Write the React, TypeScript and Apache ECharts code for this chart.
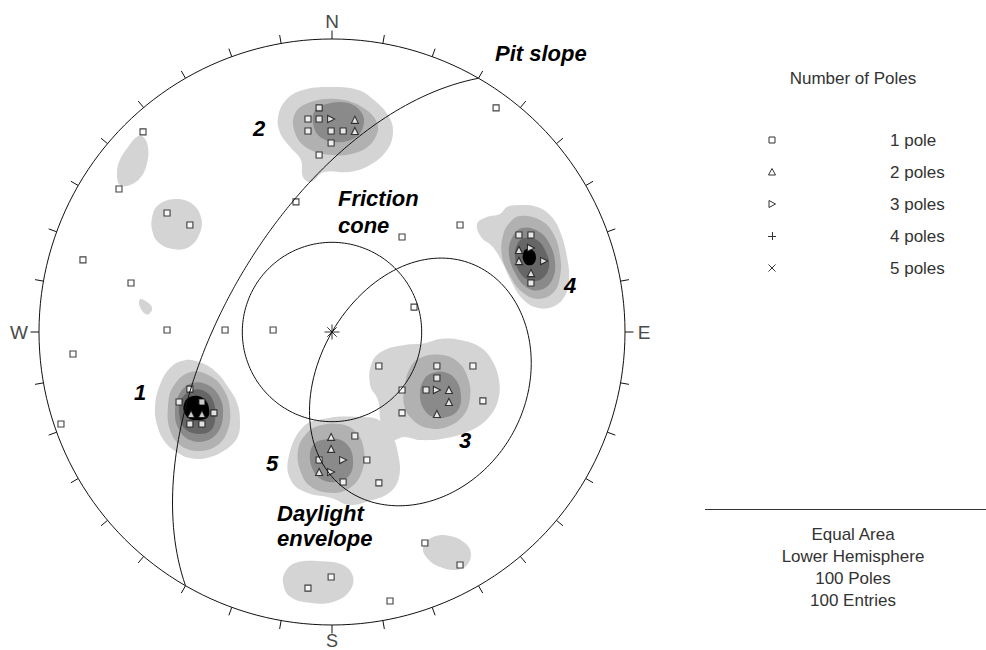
import React, { useEffect, useRef } from 'react';
import * as echarts from 'echarts';

// ---- Pole data: equal-area projected coordinates [East, North], percent of the primitive radius ----
const onePolePoles: number[][] = [
  [56.0, 76.5], [-64.5, 68.3], [-72.7, 48.8], [-12.3, 44.4], [-56.3, 40.6], [-48.5, 36.5],
  [43.7, 36.5], [23.9, 32.4], [-85.0, 24.6], [-68.6, 16.7], [28.0, 8.5], [-56.3, 0.7],
  [-36.5, 0.7], [-20.1, 0.7], [-88.4, -7.5], [-92.5, -31.4], [31.7, -72.0], [43.7, -79.5],
  [-0.3, -83.6], [-8.2, -87.4], [19.8, -91.8], [16.0, -51.5],
  [-48.5, -19.5], [-52.2, -23.9], [-44.4, -23.9], [-40.3, -27.6], [-48.5, -31.4], [-44.4, -31.4],
  [-4.4, 76.5], [-8.2, 72.7], [-4.4, 72.7], [-8.2, 68.6], [-0.3, 68.6], [3.8, 68.6], [-0.3, 64.5], [-4.4, 60.4],
  [16.0, -11.6], [35.8, -11.6], [48.1, -11.6], [35.8, -15.7], [32.1, -19.8], [23.9, -19.8], [51.5, -23.5], [23.9, -27.6],
  [63.8, 33.1], [67.9, 33.1], [67.9, 16.7],
  [7.8, -35.5], [-4.4, -43.7], [11.9, -43.7], [3.8, -51.2],
];
const twoPolePoles: number[][] = [
  [-48.1, -28.0], [-44.4, -28.0], [7.8, 72.4], [7.8, 68.6], [39.9, -19.8], [39.9, -23.9], [35.8, -28.0],
  [63.8, 28.0], [63.8, 24.2], [67.9, 20.1], [-0.3, -35.8], [-0.3, -39.9], [-4.4, -47.8],
];
const threePolePoles: number[][] = [
  [-0.3, 72.7], [35.8, -19.8], [67.9, 28.7], [72.4, 24.2], [3.8, -43.7], [-0.3, -47.8],
];
const fourPolePoles: number[][] = [];
const fivePolePoles: number[][] = [[-46.4, -25.9]];

// ---- Slope / kinematic parameters ----
const pitSlopeDipDirection = 300;
const pitSlopeDip = 60;
const frictionAngle = 25;

// ---- Density contours (polygons, [East, North]) ----
const contourColors = ['#d4d4d4', '#b1b1b1', '#8a8a8a', '#666666', '#000000'];

const cluster1Band1 = [[-50.2, -9.6], [-44.4, -10.6], [-39.2, -14.0], [-35.5, -18.8], [-32.4, -24.2], [-31.4, -30.7], [-32.4, -36.2], [-36.5, -40.3], [-42.7, -43.0], [-48.5, -43.0], [-52.9, -41.0], [-57.0, -37.5], [-59.7, -31.7], [-60.4, -25.6], [-59.0, -18.8], [-55.3, -12.3]];
const cluster1Band2 = [[-48.5, -13.7], [-41.6, -15.0], [-36.9, -19.8], [-34.8, -26.6], [-35.8, -34.1], [-39.9, -39.2], [-46.1, -40.6], [-51.9, -38.6], [-55.3, -33.4], [-56.0, -25.9], [-54.3, -18.8]];
const cluster1Band3 = [[-47.8, -17.4], [-42.3, -18.1], [-38.2, -22.5], [-37.2, -28.3], [-38.9, -34.1], [-43.3, -37.2], [-48.5, -36.9], [-52.2, -33.4], [-53.6, -27.3], [-51.9, -20.8]];
const cluster1Band4 = [[-47.4, -19.8], [-43.0, -20.5], [-40.3, -24.2], [-39.9, -30.0], [-41.6, -33.8], [-45.7, -34.8], [-49.8, -33.4], [-51.9, -29.4], [-51.5, -23.2]];
const cluster1Band5 = [[-49.1, -22.5], [-46.1, -21.8], [-43.3, -23.2], [-42.0, -25.9], [-42.3, -29.0], [-45.1, -30.0], [-48.5, -29.7], [-50.5, -27.3], [-50.5, -24.6]];

const cluster2Band1 = [[0, 83.6], [-9.9, 82.6], [-15.7, 79.2], [-18.4, 73.4], [-17.7, 67.9], [-14.3, 63.1], [-10.6, 58.7], [-9.9, 52.9], [-7.2, 51.2], [-2.7, 54.6], [5.8, 54.6], [13.0, 57.0], [18.8, 62.1], [20.8, 67.9], [19.5, 73.4], [14.3, 79.2], [8.9, 82.6]];
const cluster2Band2 = [[-7.2, 78.5], [1.7, 79.5], [10.2, 76.8], [15.4, 71.3], [14.3, 65.5], [8.9, 61.4], [0, 60.4], [-8.5, 62.8], [-12.6, 67.9], [-12.6, 74.7]];
const cluster2Band3 = [[-3.1, 77.5], [5.1, 78.2], [10.2, 74.7], [10.6, 70.0], [7.8, 66.2], [1.7, 64.8], [-4.1, 66.6], [-6.5, 71.3], [-5.8, 75.8]];

const cluster3Band1 = [[13.7, -10.2], [18.1, -6.1], [24.9, -4.4], [31.7, -3.8], [36.9, -2.4], [43.7, -2.7], [50.5, -5.1], [54.6, -9.6], [57.0, -16.4], [56.7, -23.2], [53.6, -29.0], [47.8, -33.4], [39.2, -36.2], [30.4, -36.9], [24.6, -35.8], [20.5, -36.9], [17.4, -34.1], [16.4, -29.4], [15.7, -23.2], [13.0, -18.1]];
const cluster3Band2 = [[30.0, -8.9], [36.9, -7.8], [43.0, -10.2], [46.4, -15.7], [47.1, -22.5], [44.7, -28.7], [39.2, -32.4], [32.8, -32.8], [27.6, -30.0], [24.6, -24.9], [24.9, -18.1], [26.6, -12.3]];
const cluster3Band3 = [[33.4, -14.3], [38.6, -13.7], [42.3, -16.4], [44.0, -21.5], [43.0, -26.6], [39.2, -29.0], [34.5, -29.0], [31.1, -25.9], [30.0, -20.8], [31.1, -16.7]];

const cluster4Band1 = [[62.8, 43.3], [70.0, 42.7], [75.1, 39.2], [78.2, 33.4], [80.2, 25.6], [80.9, 18.4], [79.5, 12.3], [75.1, 8.5], [69.3, 8.5], [64.5, 11.9], [61.1, 17.4], [58.4, 23.2], [54.9, 29.0], [50.9, 32.4], [49.5, 36.9], [52.6, 39.2], [57.3, 40.3], [59.7, 42.7]];
const cluster4Band2 = [[64.2, 39.6], [71.0, 38.2], [75.4, 33.8], [77.8, 26.3], [77.8, 18.8], [75.4, 13.3], [70.0, 11.3], [64.8, 13.7], [60.8, 19.1], [58.0, 25.9], [58.4, 33.1], [60.8, 37.5]];
const cluster4Band3 = [[64.8, 35.5], [70.3, 34.5], [74.1, 30.4], [76.1, 23.9], [75.1, 17.7], [71.0, 14.3], [66.2, 15.4], [62.5, 20.1], [60.4, 26.6], [61.4, 32.1]];
const cluster4Band4 = [[65.5, 32.1], [70.0, 31.4], [73.0, 27.3], [74.1, 22.5], [72.0, 18.4], [67.9, 17.4], [64.2, 20.1], [62.5, 25.3], [63.1, 29.7]];
const cluster4Band5 = [[66.2, 28.2], [68.6, 27.8], [69.6, 25.6], [68.8, 23.3], [66.6, 22.9], [65.2, 24.8], [65.3, 27.0]];

const cluster5Band1 = [[-15.0, -43.7], [-9.9, -32.4], [-1.4, -29.4], [8.9, -29.0], [16.0, -30.0], [20.1, -34.5], [22.5, -41.3], [22.9, -49.5], [19.5, -54.9], [11.6, -58.0], [5.8, -59.0], [0, -56.7], [-8.5, -54.9], [-13.7, -51.2]];
const cluster5Band2 = [[-4.8, -32.1], [2.7, -31.4], [8.2, -34.1], [10.9, -40.3], [10.2, -47.8], [6.1, -53.2], [-0.7, -54.9], [-7.5, -52.6], [-10.9, -47.1], [-11.6, -40.3], [-9.2, -35.2]];
const cluster5Band3 = [[-3.4, -36.9], [2.0, -36.5], [5.8, -39.2], [7.2, -44.4], [5.8, -49.1], [1.4, -51.2], [-3.8, -50.2], [-6.8, -46.4], [-7.5, -41.3], [-6.1, -38.2]];

const pairNorthWest = [[-64.5, 66.6], [-62.8, 63.1], [-63.1, 57.7], [-65.2, 52.9], [-68.9, 50.2], [-72.4, 50.2], [-73.4, 54.3], [-72.4, 58.7], [-69.6, 63.1], [-66.6, 66.6]];
const pairWestNorthWest = [[-61.4, 39.2], [-59.4, 43.3], [-53.6, 45.4], [-48.1, 44.0], [-44.7, 39.2], [-45.1, 33.8], [-48.8, 29.0], [-54.3, 28.3], [-59.4, 30.7], [-61.4, 34.8]];
const spotWest = [[-65.2, 11.3], [-63.1, 10.2], [-61.4, 8.2], [-62.5, 6.1], [-64.2, 6.5], [-65.5, 8.5], [-65.9, 10.2]];
const pairSouthEast = [[34.5, -70.0], [40.3, -69.6], [45.4, -72.0], [47.4, -75.4], [46.1, -79.5], [42.3, -81.2], [36.9, -80.2], [32.4, -77.1], [31.1, -73.4]];
const pairSouth = [[-12.6, -78.8], [-4.1, -78.2], [3.8, -79.5], [7.2, -83.6], [5.8, -88.7], [0, -92.2], [-7.2, -92.5], [-14.3, -90.4], [-16.7, -85.7], [-16.0, -81.9]];

const contourBands: number[][][][] = [
  [cluster1Band1, cluster2Band1, cluster3Band1, cluster4Band1, cluster5Band1, pairNorthWest, pairWestNorthWest, spotWest, pairSouthEast, pairSouth],
  [cluster1Band2, cluster2Band2, cluster3Band2, cluster4Band2, cluster5Band2],
  [cluster1Band3, cluster2Band3, cluster3Band3, cluster4Band3, cluster5Band3],
  [cluster1Band4, cluster4Band4],
  [cluster1Band5, cluster4Band5],
];

// ---- Text ----
const compassLabels = ['N', 'E', 'S', 'W'];
const legendTitle = 'Number of Poles';
const legendLabels = ['1 pole', '2 poles', '3 poles', '4 poles', '5 poles'];
const infoLines = ['Equal Area', 'Lower Hemisphere', '100 Poles', '100 Entries'];
const setLabels = ['1', '2', '3', '4', '5'];

// ---- Equal-area projection helpers ----
const D = Math.PI / 180;
function project(trend: number, plunge: number): number[] {
  const r = 100 * Math.SQRT2 * Math.sin(((90 - plunge) * D) / 2);
  return [r * Math.sin(trend * D), r * Math.cos(trend * D)];
}
function greatCircle(dipDir: number, dip: number): number[][] {
  const pts: number[][] = [];
  for (let b = dipDir - 90; b <= dipDir + 90; b += 1) {
    const p = Math.atan(Math.tan(dip * D) * Math.cos((b - dipDir) * D)) / D;
    pts.push(project(b, p));
  }
  return pts;
}
function daylightEnvelope(dipDir: number, dip: number): number[][] {
  const pts: number[][] = [];
  for (let b = dipDir - 90; b <= dipDir + 90; b += 1) {
    const d = Math.atan(Math.tan(dip * D) * Math.cos((b - dipDir) * D)) / D;
    pts.push(project(b + 180, 90 - d));
  }
  return pts;
}
function smallCircleAboutVertical(angle: number): number[][] {
  const pts: number[][] = [];
  for (let t = 0; t <= 360; t += 2) pts.push(project(t, 90 - angle));
  return pts;
}

const CX = 332, CY = 332, R = 293;

function buildOption(): any {
  const contourItems: { level: number; pts: number[][] }[] = [];
  contourBands.forEach((polys, level) => polys.forEach((pts) => contourItems.push({ level, pts })));

  const poleStyle = { color: '#ffffff', borderColor: '#111111', borderWidth: 1.1 };
  const lineStyle = { color: '#111111', width: 1 };
  const textFont = { fontFamily: '"Liberation Sans", Arial, sans-serif' };

  const graphics: any[] = [];
  const compassPos = [[CX, 21], [CX + R + 19, CY], [CX, 641], [CX - R - 20, CY]];
  compassLabels.forEach((t, i) => {
    graphics.push({
      type: 'text', x: compassPos[i][0], y: compassPos[i][1], silent: true,
      style: { text: t, fill: '#4a4a4a', fontSize: i === 2 ? 18 : 19, ...textFont, align: 'center', verticalAlign: 'middle', textAlign: 'center', textVerticalAlign: 'middle' },
    });
  });
  const boldItalic = (text: string, x: number, y: number, align = 'left') => ({
    type: 'text', x, y, silent: true, z: 20,
    style: { text, fill: '#000', fontSize: 22, fontWeight: 'bold', fontStyle: 'italic', ...textFont, align, verticalAlign: 'middle', textAlign: align, textVerticalAlign: 'middle' },
  });
  graphics.push(boldItalic('Pit slope', 495, 53));
  graphics.push(boldItalic('Friction', 338, 198));
  graphics.push(boldItalic('cone', 338, 225));
  graphics.push(boldItalic('Daylight', 277, 513));
  graphics.push(boldItalic('envelope', 277, 538));
  const setPos = [[140, 392], [259, 128], [465, 440], [570, 285], [272, 463]];
  setLabels.forEach((t, i) => graphics.push(boldItalic(t, setPos[i][0], setPos[i][1], 'center')));

  // legend
  const legendX = 772, legendTextX = 890, legendCenter = 853;
  graphics.push({
    type: 'text', x: legendCenter, y: 78, silent: true,
    style: { text: legendTitle, fill: '#333', fontSize: 17, ...textFont, align: 'center', verticalAlign: 'middle', textAlign: 'center', textVerticalAlign: 'middle' },
  });
  const symStroke = { stroke: '#333', lineWidth: 1, fill: '#fff' };
  legendLabels.forEach((t, i) => {
    const y = 140 + i * 32;
    graphics.push({
      type: 'text', x: legendTextX, y, silent: true,
      style: { text: t, fill: '#333', fontSize: 17, ...textFont, align: 'left', verticalAlign: 'middle', textAlign: 'left', textVerticalAlign: 'middle' },
    });
    if (i === 0) graphics.push({ type: 'rect', shape: { x: legendX - 3, y: y - 3, width: 6, height: 6 }, style: symStroke, silent: true });
    if (i === 1) graphics.push({ type: 'polygon', shape: { points: [[legendX, y - 3.5], [legendX + 3.5, y + 3], [legendX - 3.5, y + 3]] }, style: symStroke, silent: true });
    if (i === 2) graphics.push({ type: 'polygon', shape: { points: [[legendX - 3, y - 3.5], [legendX + 3.5, y], [legendX - 3, y + 3.5]] }, style: symStroke, silent: true });
    if (i === 3) {
      graphics.push({ type: 'line', shape: { x1: legendX - 4, y1: y + 0.5, x2: legendX + 4, y2: y + 0.5 }, style: { stroke: '#333', lineWidth: 1 }, silent: true });
      graphics.push({ type: 'line', shape: { x1: legendX + 0.5, y1: y - 4, x2: legendX + 0.5, y2: y + 4 }, style: { stroke: '#333', lineWidth: 1 }, silent: true });
    }
    if (i === 4) {
      graphics.push({ type: 'line', shape: { x1: legendX - 3.5, y1: y - 3.5, x2: legendX + 3.5, y2: y + 3.5 }, style: { stroke: '#333', lineWidth: 1 }, silent: true });
      graphics.push({ type: 'line', shape: { x1: legendX + 3.5, y1: y - 3.5, x2: legendX - 3.5, y2: y + 3.5 }, style: { stroke: '#333', lineWidth: 1 }, silent: true });
    }
  });
  graphics.push({ type: 'line', shape: { x1: 705, y1: 509.5, x2: 986, y2: 509.5 }, style: { stroke: '#333', lineWidth: 1 }, silent: true });
  infoLines.forEach((t, i) => {
    graphics.push({
      type: 'text', x: legendCenter, y: 534 + i * 22, silent: true,
      style: { text: t, fill: '#333', fontSize: 17, ...textFont, align: 'center', verticalAlign: 'middle', textAlign: 'center', textVerticalAlign: 'middle' },
    });
  });

  return {
    animation: false,
    backgroundColor: '#ffffff',
    polar: { center: [CX, CY], radius: R },
    angleAxis: {
      type: 'value', min: 0, max: 360, interval: 10, startAngle: 90, clockwise: true,
      axisLine: { show: true, lineStyle: { color: '#111', width: 1 } },
      axisTick: { show: true, inside: false, length: 8.5, lineStyle: { color: '#111', width: 1 } },
      axisLabel: { show: false }, splitLine: { show: false },
    },
    radiusAxis: { type: 'value', min: 0, max: 1, axisLine: { show: false }, axisTick: { show: false }, axisLabel: { show: false }, splitLine: { show: false } },
    grid: { left: CX - R, top: CY - R, width: 2 * R, height: 2 * R },
    xAxis: { type: 'value', min: -100, max: 100, show: false },
    yAxis: { type: 'value', min: -100, max: 100, show: false },
    graphic: graphics,
    series: [
      {
        type: 'custom', coordinateSystem: 'cartesian2d', silent: true, z: 1, clip: false,
        data: contourItems.map((c) => c.pts[0]),
        renderItem: (params: any, api: any) => {
          const c = contourItems[params.dataIndex];
          return {
            type: 'polygon',
            shape: { points: c.pts.map((p) => api.coord(p)), smooth: 0.4 },
            style: { fill: contourColors[c.level], stroke: null },
          };
        },
      },
      { type: 'scatter', name: '1 pole', data: onePolePoles, symbol: 'rect', symbolSize: 6, itemStyle: poleStyle, z: 4, silent: true },
      { type: 'scatter', name: '2 poles', data: twoPolePoles, symbol: 'triangle', symbolSize: 7, itemStyle: poleStyle, z: 4, silent: true },
      { type: 'scatter', name: '3 poles', data: threePolePoles, symbol: 'triangle', symbolRotate: -90, symbolSize: 7, itemStyle: poleStyle, z: 4, silent: true },
      { type: 'scatter', name: '4 poles', data: fourPolePoles, symbol: 'path://M0,5L10,5M5,0L5,10', symbolSize: 8, itemStyle: { color: 'none', borderColor: '#000', borderWidth: 1 }, z: 4, silent: true },
      { type: 'scatter', name: '5 poles', data: fivePolePoles, symbol: 'path://M0,0L10,10M10,0L0,10', symbolSize: 7, itemStyle: { color: 'none', borderColor: '#000', borderWidth: 1 }, z: 4, silent: true },
      { type: 'scatter', name: 'centre', data: [[0, 0]], symbol: 'path://M0,8L16,8M8,0L8,16M3,3L13,13M13,3L3,13', symbolSize: 15, itemStyle: { color: 'none', borderColor: '#000', borderWidth: 1 }, z: 5, silent: true },
      { type: 'line', name: 'Pit slope', data: greatCircle(pitSlopeDipDirection, pitSlopeDip), showSymbol: false, symbol: 'none', lineStyle, z: 6, silent: true, clip: false },
      { type: 'line', name: 'Friction cone', data: smallCircleAboutVertical(frictionAngle), showSymbol: false, symbol: 'none', lineStyle, z: 6, silent: true, clip: false },
      { type: 'line', name: 'Daylight envelope', data: daylightEnvelope(pitSlopeDipDirection, pitSlopeDip), showSymbol: false, symbol: 'none', lineStyle, z: 6, silent: true, clip: false },
    ],
  };
}

export default function App() {
  const ref = useRef<HTMLDivElement>(null);
  useEffect(() => {
    if (!ref.current) return;
    const chart = echarts.init(ref.current, undefined, { renderer: 'svg' });
    chart.setOption(buildOption());
    return () => chart.dispose();
  }, []);
  return <div ref={ref} style={{ position: 'fixed', left: 0, top: 0, width: 986, height: 650, background: '#fff' }} />;
}
